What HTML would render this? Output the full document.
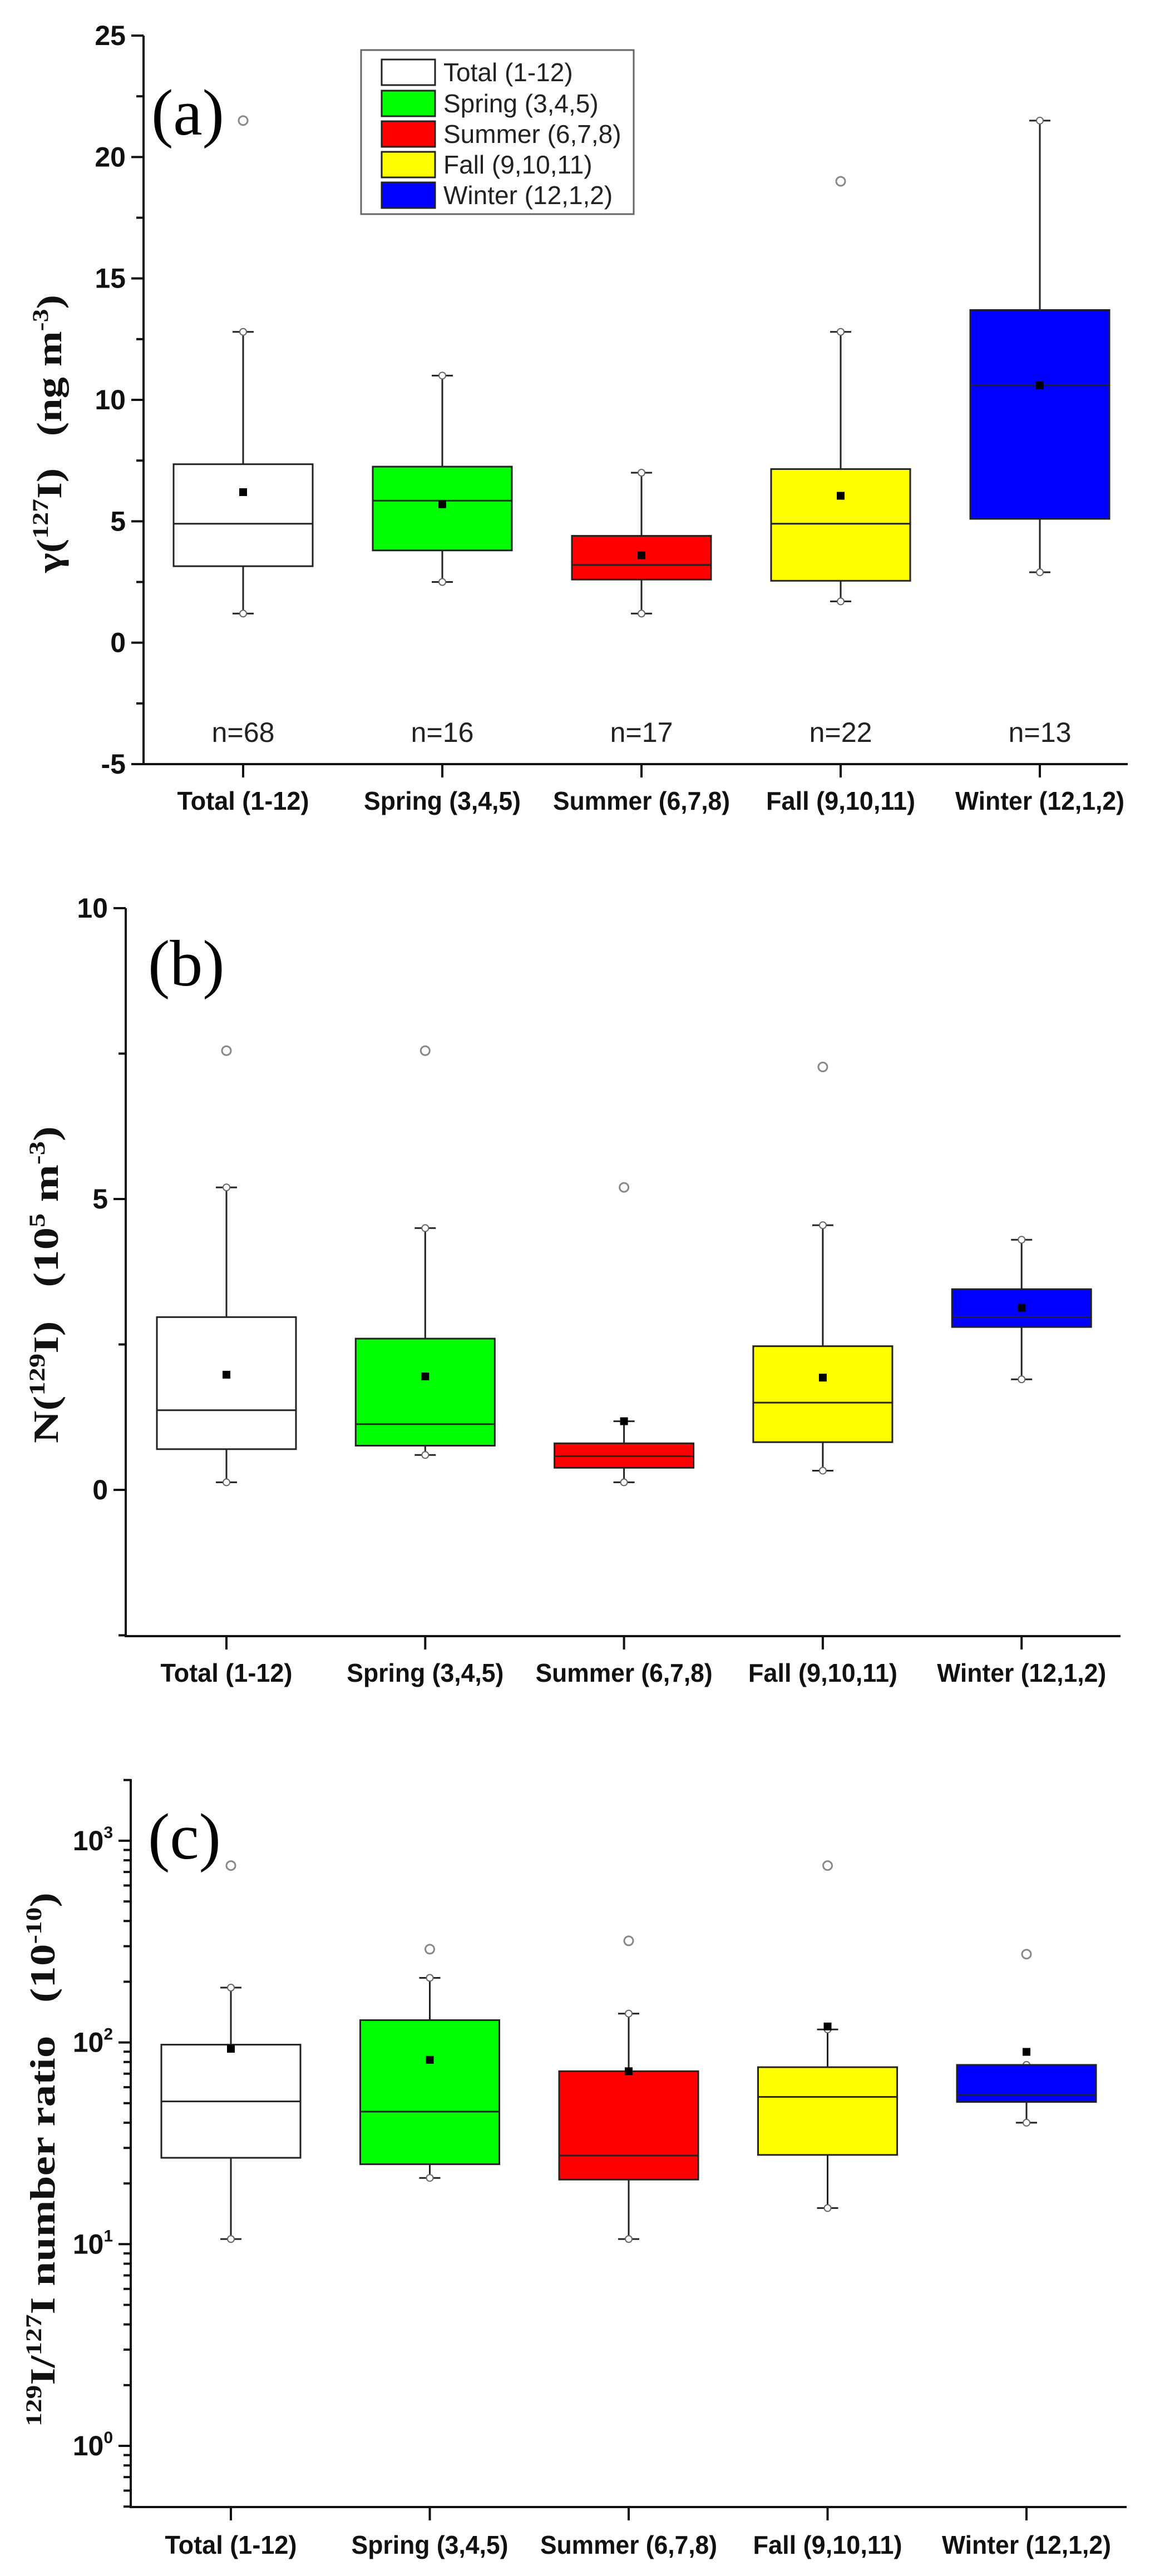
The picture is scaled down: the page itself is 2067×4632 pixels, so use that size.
<!DOCTYPE html>
<html><head><meta charset="utf-8"><style>
html,body{margin:0;padding:0;background:#fff}
svg{display:block}
text{font-family:"Liberation Sans",sans-serif}
.serif{font-family:"Liberation Serif",serif}
</style></head><body>
<svg id="fig" xmlns="http://www.w3.org/2000/svg" width="2067" height="4632" viewBox="0 0 2067 4632"></svg>
<script>
const categories = ["Total (1-12)","Spring (3,4,5)","Summer (6,7,8)","Fall (9,10,11)","Winter (12,1,2)"];
const colors = ["#ffffff","#00ff00","#ff0000","#ffff00","#0000ff"];
const nLabels = ["n=68","n=16","n=17","n=22","n=13"];
// Panel a: gamma(127I)
const aMin = [1.2,2.5,1.2,1.7,2.9];
const aQ1 = [3.15,3.8,2.6,2.55,5.1];
const aMed = [4.9,5.85,3.2,4.9,10.6];
const aQ3 = [7.35,7.25,4.4,7.15,13.7];
const aMax = [12.8,11.0,7.0,12.8,21.5];
const aMean = [6.2,5.7,3.6,6.05,10.6];
const aOut = [[21.5],[],[],[19.0],[]];
const aTicks = [25,20,15,10,5,0,-5];
// Panel b: N(129I)
const bMin = [0.13,0.6,0.13,0.33,1.9];
const bQ1 = [0.7,0.76,0.38,0.82,2.8];
const bMed = [1.37,1.13,0.58,1.5,2.97];
const bQ3 = [2.97,2.6,0.8,2.47,3.45];
const bMax = [5.2,4.5,1.18,4.55,4.3];
const bMean = [1.98,1.95,1.18,1.93,3.13];
const bOut = [[7.55],[7.55],[5.2],[7.27],[]];
const bTicks = [10,5,0];
// Panel c: 129I/127I ratio (log)
const cMin = [10.6,21.3,10.6,15.1,40];
const cQ1 = [26.8,24.9,20.9,27.7,50.7];
const cMed = [51,45.4,27.5,53.7,55];
const cQ3 = [97.5,129,72,75.4,77.4];
const cMax = [187,209,139,116,77.4];
const cMean = [93,82,72,120,89.8];
const cOut = [[753],[290],[319],[753],[274]];
const cTickExp = [3,2,1,0];

const NS="http://www.w3.org/2000/svg";
const svg=document.getElementById('fig');
function el(tag,attrs,parent){const e=document.createElementNS(NS,tag);for(const k in attrs)e.setAttribute(k,attrs[k]);(parent||svg).appendChild(e);return e;}

function panel(p){
  const g=el('g',{});
  
  
  const ys=p.ys, xs=i=>p.x0+i*p.step;
  // axes
  const ax=el('path',{d:`M${p.left},${p.top} V${p.bottom} H${p.right}`,fill:'none',stroke:'#111','stroke-width':4},g);
  
  
  // y ticks
  p.majors.forEach((v,k)=>{
    const y=ys(v);
    el('line',{x1:p.left-22,x2:p.left,y1:y,y2:y,stroke:'#111','stroke-width':4},g);
    const t=el('text',{x:p.left-32,y:y+17,'text-anchor':'end','font-size':50,'font-weight':'bold',fill:'#111'},g);
    
    
    if(p.log){t.textContent='10';const s=el('tspan',{dy:-22,'font-size':30},t);s.textContent=String(cTickExp[k]);}
    else t.textContent=String(v);
  });
  p.minors.forEach(v=>{const y=ys(v);el('line',{x1:p.left-13,x2:p.left,y1:y,y2:y,stroke:'#111','stroke-width':4},g);});
  // x ticks + labels
  categories.forEach((c,i)=>{
    const x=xs(i);
    el('line',{x1:x,x2:x,y1:p.bottom,y2:p.bottom+24,stroke:'#111','stroke-width':4},g);
    const t=el('text',{x:x,y:p.xlabY,'text-anchor':'middle','font-size':46,'font-weight':'bold',fill:'#111',textLength:p.xlabW[i],lengthAdjust:'spacingAndGlyphs'},g);
    t.textContent=c;
    
    
  });
  // boxes
  categories.forEach((c,i)=>{
    const x=xs(i),hw=125;
    const bg=el('g',{},g);
    
    
    const yMax=ys(p.max[i]),yMin=ys(p.min[i]),yQ3=ys(p.q3[i]),yQ1=ys(p.q1[i]);
    el('line',{x1:x,x2:x,y1:yMax,y2:yQ3,stroke:'#222','stroke-width':3},bg);
    el('line',{x1:x,x2:x,y1:yQ1,y2:yMin,stroke:'#222','stroke-width':3},bg);
    [yMax,yMin].forEach(y=>{
      el('line',{x1:x-19,x2:x+19,y1:y,y2:y,stroke:'#222','stroke-width':3},bg);
      el('circle',{cx:x,cy:y,r:6,fill:'#fff',stroke:'#666','stroke-width':2},bg);
    });
    el('rect',{x:x-hw,y:yQ3,width:2*hw,height:yQ1-yQ3,fill:colors[i],stroke:'#222','stroke-width':3},bg);
    el('line',{x1:x-hw,x2:x+hw,y1:ys(p.med[i]),y2:ys(p.med[i]),stroke:'#222','stroke-width':3},bg);
    el('rect',{x:x-7,y:ys(p.mean[i])-7,width:14,height:14,fill:'#000'},bg);
    p.out[i].forEach(v=>{
      const o=el('circle',{cx:x,cy:ys(v),r:8,fill:'none',stroke:'#888','stroke-width':3},bg);
      
      
    });
  });
  // panel letter
  const L=el('text',{x:p.letX,y:p.letY,'font-size':118,class:'serif',fill:'#000'},g);
  L.textContent='('+p.id+')';
  
  
  return {g,xs,ys};
}

// Panel a
const A={id:'a',left:258,right:2027,top:64,bottom:1374,x0:437,step:358,
  ys:v=>64+(25-v)*(1310/30),majors:aTicks,minors:[22.5,17.5,12.5,7.5,2.5,-2.5],
  min:aMin,q1:aQ1,med:aMed,q3:aQ3,max:aMax,mean:aMean,out:aOut,xlabY:1456,
  xlabW:[237,282,318,268,304],letX:272,letY:242};
const pa=panel(A);
nLabels.forEach((n,i)=>{
  const t=el('text',{x:pa.xs(i),y:1334,'text-anchor':'middle','font-size':50,fill:'#222',textLength:113,lengthAdjust:'spacingAndGlyphs'},pa.g);
  t.textContent=n;
  
  
});
// legend
const lg=el('g',{});


el('rect',{x:649,y:90,width:490,height:295,fill:'#fff',stroke:'#666','stroke-width':3},lg);
const legY=[130,186,241,296,351];
categories.forEach((c,i)=>{
  const e=el('g',{},lg);
  
  
  el('rect',{x:686,y:legY[i]-23,width:96,height:46,fill:colors[i],stroke:'#222','stroke-width':3},e);
  const t=el('text',{x:797,y:legY[i]+16,'font-size':46,fill:'#222'},e);
  t.textContent=c;
});

// Panel b
const B={id:'b',left:226,right:2014,top:1633,bottom:2942,x0:407,step:357.3,
  ys:v=>2679-v*104.6,majors:bTicks,minors:[7.5,2.5,-2.5],
  min:bMin,q1:bQ1,med:bMed,q3:bQ3,max:bMax,mean:bMean,out:bOut,xlabY:3024,
  xlabW:[237,282,318,268,304],letX:266,letY:1772};
panel(B);

// Panel c (log)
const cMinorVals=[];
for(let d=-1;d<=3;d++)for(let m=2;m<=9;m++){const v=m*Math.pow(10,d);if(Math.log10(v)>=-0.303&&Math.log10(v)<=3.306)cMinorVals.push(v);}
const C={id:'c',log:true,left:235,right:2025,top:3199,bottom:4508,x0:415,step:357.5,
  ys:v=>4398-Math.log10(v)*362.7,majors:cTickExp.map(e=>Math.pow(10,e)),minors:cMinorVals,
  min:cMin,q1:cQ1,med:cMed,q3:cQ3,max:cMax,mean:cMean,out:cOut,xlabY:4592,
  xlabW:[237,282,318,268,304],letX:266,letY:3342};
panel(C);

// y-axis titles
function ytitle(name,cx,cy,len,build){
  const t=el('text',{transform:`translate(${cx},${cy}) rotate(-90)`,'text-anchor':'middle','font-size':64,'font-weight':'bold',class:'serif',fill:'#111',textLength:len,lengthAdjust:'spacingAndGlyphs'});
  
  
  build(t);
}
function sp(t,txt,dy,fs){const s=el('tspan',{dy:dy,'font-size':fs},t);s.textContent=txt;return s;}
ytitle('y-axis-title-a',110,780,500,t=>{sp(t,'γ(',0,64);sp(t,'127',-24,40);sp(t,'I)\u00a0\u00a0\u00a0(ng m',24,64);sp(t,'-3',-24,40);sp(t,')',24,64);});
ytitle('y-axis-title-b',104,2310,570,t=>{sp(t,'N(',0,64);sp(t,'129',-24,40);sp(t,'I)\u00a0\u00a0\u00a0(10',24,64);sp(t,'5',-24,40);sp(t,' m',24,64);sp(t,'-3',-24,40);sp(t,')',24,64);});
ytitle('y-axis-title-c',98,3883,960,t=>{sp(t,'129',-24,40);sp(t,'I/',24,64);sp(t,'127',-24,40);sp(t,'I number ratio\u00a0\u00a0\u00a0(10',24,64);sp(t,'-10',-24,40);sp(t,')',24,64);});
</script>
</body></html>
